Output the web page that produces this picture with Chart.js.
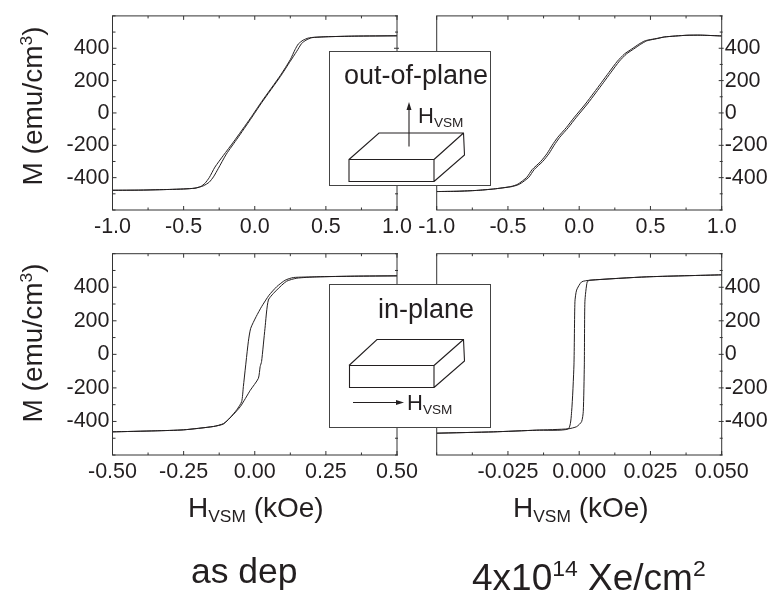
<!DOCTYPE html>
<html><head><meta charset="utf-8">
<script src="https://cdn.jsdelivr.net/npm/chart.js@4"></script>
<style>
html,body{margin:0;padding:0;background:#fff;overflow:hidden}
#stage{position:relative;width:768px;height:595px;font-family:"Liberation Sans",Arial,sans-serif;color:#231f20}
canvas{position:absolute;left:0;top:0}
svg{position:absolute;left:0;top:0}
.t{position:absolute;white-space:nowrap;line-height:1}
.r{transform:translate(-50%,-50%) rotate(-90deg)}
.t sub,.t sup{line-height:0;font-size:62%}
.t sub{vertical-align:-0.28em}
.t sup{vertical-align:0.6em}
</style></head><body>
<div id="stage">
<canvas id="c1" width="768" height="595"></canvas>
<canvas id="c2" width="768" height="595"></canvas>
<canvas id="c3" width="768" height="595"></canvas>
<canvas id="c4" width="768" height="595"></canvas>
<svg width="768" height="595" fill="none" stroke="#231f20">
<rect x="329.5" y="51.5" width="161" height="134" fill="#fff" stroke="#444"/>
<rect x="329.5" y="284.5" width="161" height="143" fill="#fff" stroke="#444"/>
<g stroke-width="1.1">
<path d="M349 159.5H434V181.5H349ZM349 159.5L379 133H463.5L464.5 155L434 181.5M434 159.5L463.5 133"/>
<path d="M349.5 365.5H434V387.5H349.5ZM349 365.5L377 339.5H463.5L464.5 361L434 387.5M434 365.5L463.5 339.5"/>
<path d="M409 146.5V106"/>
<path d="M353 402.5H396"/>
</g>
<path d="M409 102L406.5 110H411.5Z" fill="#231f20" stroke="none"/>
<path d="M404 402.5L396 400V405Z" fill="#231f20" stroke="none"/>
</svg>
<div class="t" style="left:344px;top:62px;font-size:27px">out-of-plane</div>
<div class="t" style="left:418px;top:105px;font-size:22px">H<sub>VSM</sub></div>
<div class="t" style="left:378px;top:296px;font-size:27px">in-plane</div>
<div class="t" style="left:407px;top:392px;font-size:22px">H<sub>VSM</sub></div>
<div class="t r" style="left:33px;top:106px;font-size:28px">M (emu/cm<sup>3</sup>)</div>
<div class="t r" style="left:33px;top:343px;font-size:28px">M (emu/cm<sup>3</sup>)</div>
<div class="t" style="left:188px;top:494px;font-size:28px">H<sub>VSM</sub> (kOe)</div>
<div class="t" style="left:513px;top:494px;font-size:28px">H<sub>VSM</sub> (kOe)</div>
<div class="t" style="left:191px;top:554px;font-size:35.5px">as dep</div>
<div class="t" style="left:472px;top:559px;font-size:37px">4x10<sup>14</sup> Xe/cm<sup>2</sup></div>
</div>
<script>
const yTickLabels = ['-400','-200','0','200','400'];
const xLabelsWide = ['-1.0','-0.5','0.0','0.5','1.0'];
const xLabelsMid = ['-0.50','-0.25','0.00','0.25','0.50'];
const xLabelsNarrow = ['-0.025','0.000','0.025','0.050'];

const tlAX = [-1,-0.8,-0.6,-0.5,-0.42,-0.38,-0.35,-0.32,-0.28,-0.22,-0.15,-0.03,0.05,0.18,0.25,0.283,0.306,0.34,0.376,0.42,0.5,0.7,1];
const tlAY = [-478,-477,-473,-470,-465,-455,-435,-400,-335,-262,-180,-32,72,232,330,391,426,450,463,468,471,475,477];
const tlBX = [-1,-0.8,-0.6,-0.5,-0.42,-0.36,-0.32,-0.29,-0.256,-0.2,-0.12,-0.03,0.05,0.18,0.25,0.295,0.33,0.36,0.4,0.44,0.5,0.7,1];
const tlBY = [-478,-477,-473,-470,-465,-450,-428,-395,-343,-255,-155,-40,65,225,320,381,430,450,465,468,471,475,477];

const trY = [-486,-484,-479,-470,-455,-440,-398,-350,-300,-250,-200,-150,-90,-30,55,125,190,250,320,365,395,425,445,452,460,470,480,481,476];
const trAX = [-1,-0.85,-0.72,-0.6,-0.48,-0.43,-0.368,-0.33,-0.27,-0.225,-0.19,-0.15,-0.09,-0.037,0.043,0.103,0.158,0.208,0.268,0.318,0.368,0.418,0.458,0.49,0.54,0.6,0.75,0.85,1];
const trBX = [-1,-0.85,-0.72,-0.6,-0.47,-0.418,-0.354,-0.316,-0.256,-0.211,-0.176,-0.136,-0.076,-0.023,0.057,0.117,0.172,0.222,0.282,0.332,0.382,0.432,0.472,0.503,0.55,0.6,0.75,0.85,1];

const blAX = [-0.5,-0.35,-0.25,-0.145,-0.11,-0.087,-0.063,-0.046,-0.04,-0.0226,-0.0143,0.005,0.024,0.05,0.077,0.107,0.136,0.218,0.35,0.5];
const blAY = [-462,-456,-450,-430,-413,-378,-330,-282,-192,75,155,225,284,352,403,442,458,462,466,468];
const blBX = [-0.5,-0.35,-0.25,-0.145,-0.11,-0.076,-0.05,-0.016,0.0127,0.019,0.024,0.036,0.048,0.077,0.112,0.148,0.218,0.35,0.5];
const blBY = [-462,-456,-450,-430,-415,-360,-310,-215,-143,-73,-43,155,324,383,436,454,462,466,468];

const brAX = [-0.05,-0.03,-0.015,-0.00384,-0.00266,-0.00184,-0.0015,-0.00091,0.00085,0.0038,0.0237,0.05];
const brAY = [-470,-462,-452,-444,-341,-63,314,383,432,442,462,474];
const brBX = [-0.05,-0.03,-0.015,-0.00384,-0.0009,0.00085,0.00143,0.0018,0.002,0.0028,0.0038,0.0237,0.05];
const brBY = [-470,-462,-452,-444,-431,-401,-341,-63,314,432,442,462,474];

const ink = '#231f20';
const pairs = (xs, ys) => xs.map((x, i) => ({x, y: ys[i]}));

const frame = {
  id: 'frame',
  afterDraw(chart) {
    const {ctx, chartArea: a, scales: {x, y}} = chart;
    const o = chart.options.plugins.frame;
    ctx.save();
    ctx.strokeStyle = '#333';
    ctx.lineWidth = 1;
    ctx.strokeRect(a.left, a.top, a.right - a.left, a.bottom - a.top);
    ctx.beginPath();
    x.ticks.forEach(t => {
      const p = x.getPixelForValue(t.value), len = t.label ? 4 : 2.5;
      ctx.moveTo(p, a.top); ctx.lineTo(p, a.top + len);
      ctx.moveTo(p, a.bottom); ctx.lineTo(p, a.bottom - len);
    });
    y.ticks.forEach(t => {
      const p = y.getPixelForValue(t.value);
      const len = t.label ? 3 : 2;
      if (o.side === 'left') {
        ctx.moveTo(a.left, p); ctx.lineTo(a.left + len + 1, p);
        ctx.moveTo(a.right - len, p); ctx.lineTo(a.right + len - 1, p);
      } else {
        ctx.moveTo(a.right - len, p); ctx.lineTo(a.right + len - 1, p);
      }
    });
    ctx.stroke();
    ctx.restore();
  }
};

function panel(id, box, side, xLim, xStep, xDec, xLabels, ax, ay, bx, by) {
  const yw = 46, xh = 30;
  new Chart(document.getElementById(id), {
    type: 'line',
    plugins: [frame],
    data: {datasets: [0, 1].map(i => ({
      data: i ? pairs(bx, by) : pairs(ax, ay),
      borderColor: ink, borderWidth: 1, pointRadius: 0, tension: 0.2, fill: false, clip: true
    }))},
    options: {
      responsive: false, animation: false, events: [],
      layout: {padding: {
        left: side === 'left' ? box.l - yw : box.l,
        right: side === 'left' ? 768 - box.r : 768 - box.r - yw,
        top: box.t, bottom: 595 - box.b - xh
      }},
      plugins: {legend: {display: false}, tooltip: {enabled: false}, title: {display: false}, frame: {side}},
      scales: {
        x: {
          type: 'linear', min: -xLim, max: xLim,
          afterFit: s => { s.height = xh; },
          grid: {display: false, drawTicks: false}, border: {display: false},
          ticks: {
            stepSize: xStep, autoSkip: false, maxRotation: 0, padding: 4,
            color: ink, font: {family: '"Liberation Sans"', size: 21.5},
            callback: v => { const s = v.toFixed(xDec); return xLabels.includes(s) ? s : ''; }
          }
        },
        y: {
          type: 'linear', position: side, min: -600, max: 600,
          afterFit: s => { s.width = yw; },
          grid: {display: false, drawTicks: false}, border: {display: false},
          ticks: {
            stepSize: 100, autoSkip: false, padding: 3,
            color: ink, font: {family: '"Liberation Sans"', size: 21.5},
            callback: v => { const s = String(v); return yTickLabels.includes(s) ? s : ''; }
          }
        }
      }
    }
  });
}

panel('c1', {l:112.5, r:397, t:8, b:210}, 'left', 1, 0.25, 1, xLabelsWide, tlAX, tlAY, tlBX, tlBY);
panel('c2', {l:436.7, r:721.7, t:8, b:210}, 'right', 1, 0.25, 1, xLabelsWide, trAX, trY, trBX, trY);
panel('c3', {l:112.5, r:397, t:253.7, b:455}, 'left', 0.5, 0.125, 2, xLabelsMid, blAX, blAY, blBX, blBY);
panel('c4', {l:436.7, r:721.7, t:253.7, b:455}, 'right', 0.05, 0.0125, 3, xLabelsNarrow, brAX, brAY, brBX, brBY);
</script>
</body></html>
